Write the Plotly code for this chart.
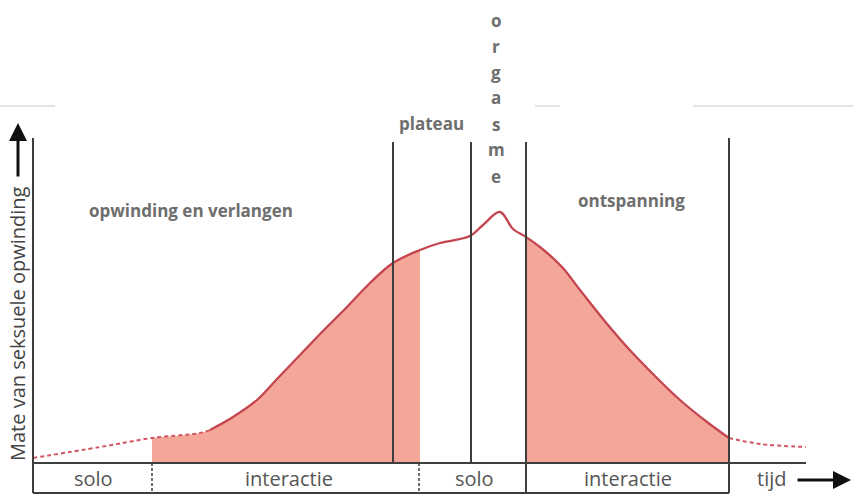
import plotly.graph_objects as go

# ---- data (time in px-like units, arousal level above baseline) ----
curve_t = [33, 100, 152, 200, 210, 233, 257, 277, 300, 323, 347, 370, 393, 420, 440, 470,
           483, 500, 513, 526, 540, 562, 580, 603, 627, 653, 680, 707, 729, 760, 806]
curve_a = [5, 16, 25, 30, 33, 46, 63, 84, 108, 132, 156, 180, 200, 213, 220, 227,
           238, 251, 234, 226, 216, 196, 173, 144, 116, 89, 63, 41, 25, 19, 16]

solid_from, solid_to = 4, 28          # indices of solid part of curve
fill_segments = [(2, 13), (19, 28)]   # shaded parts (index ranges)

phase_lines = [393, 471, 526, 729]
phase_tops = [321, 321, 321, 325]
phase_bottoms = [0, 0, -30, -30]
band_dividers = [152, 419]

phase_labels = ["opwinding en verlangen", "plateau", "ontspanning"]
phase_label_x = [191, 431, 631]
phase_label_y = [253, 340, 263]

orgasme_letters = list("orgasme")
orgasme_x = 496
orgasme_y = [443, 417, 391, 366, 339, 314, 287]

band_labels = ["solo", "interactie", "solo", "interactie", "tijd"]
band_label_x = [93, 289, 474, 628, 771]

y_label = "Mate van seksuele opwinding"

RED = "#c4444f"
DASH_RED = "#d25563"
FILL = "#f4a699"
DARK = "#3e3e3e"
GREY_TXT = "#6e6e6e"

fig = go.Figure()

for i0, i1 in fill_segments:
    fig.add_trace(go.Scatter(x=curve_t[i0:i1 + 1], y=curve_a[i0:i1 + 1], mode="lines",
                             line=dict(width=0, shape="spline", smoothing=1.0),
                             fill="tozeroy", fillcolor=FILL, hoverinfo="skip"))

fig.add_trace(go.Scatter(x=curve_t[:solid_from + 1], y=curve_a[:solid_from + 1], mode="lines",
                         line=dict(color=DASH_RED, width=2, dash="4px,3px", shape="spline")))
fig.add_trace(go.Scatter(x=curve_t[solid_from:solid_to + 1], y=curve_a[solid_from:solid_to + 1],
                         mode="lines", line=dict(color=RED, width=2.3, shape="spline", smoothing=1.0)))
fig.add_trace(go.Scatter(x=curve_t[solid_to:], y=curve_a[solid_to:], mode="lines",
                         line=dict(color=DASH_RED, width=2, dash="4px,3px", shape="spline")))

shapes = []
# y axis
shapes.append(dict(type="line", x0=33, x1=33, y0=325, y1=-30, line=dict(color=DARK, width=2)))
# baseline and bottom line
shapes.append(dict(type="line", x0=33, x1=806, y0=0, y1=0, line=dict(color=DARK, width=2)))
shapes.append(dict(type="line", x0=33, x1=729, y0=-30, y1=-30, line=dict(color=DARK, width=2)))
for x, t, b in zip(phase_lines, phase_tops, phase_bottoms):
    shapes.append(dict(type="line", x0=x, x1=x, y0=t, y1=b, line=dict(color=DARK, width=2)))
for x in band_dividers:
    shapes.append(dict(type="line", x0=x, x1=x, y0=0, y1=-30,
                       line=dict(color=DARK, width=1.5, dash="3px,2px")))
# faint top lines
for x0, x1 in [(0, 55), (535, 560), (693, 853)]:
    shapes.append(dict(type="line", x0=x0, x1=x1, y0=357, y1=357,
                       line=dict(color="#c8c8c8", width=1)))

annotations = []
for txt, x, y in zip(phase_labels, phase_label_x, phase_label_y):
    annotations.append(dict(x=x, y=y, text="<b>" + txt + "</b>", showarrow=False,
                            font=dict(family="Open Sans", size=17, color=GREY_TXT)))
for ch, y in zip(orgasme_letters, orgasme_y):
    annotations.append(dict(x=orgasme_x, y=y, text="<b>" + ch + "</b>", showarrow=False,
                            font=dict(family="Open Sans", size=17, color=GREY_TXT)))
for txt, x in zip(band_labels, band_label_x):
    annotations.append(dict(x=x, y=-15, text=txt, showarrow=False,
                            font=dict(family="Open Sans", size=20, color="#555555")))
annotations.append(dict(x=17, y=139, text=y_label, textangle=-90, showarrow=False,
                        font=dict(family="Open Sans", size=20, color="#444444")))
# arrows
annotations.append(dict(x=18, y=340, ax=18, ay=285, axref="x", ayref="y", text="",
                        showarrow=True, arrowhead=2, arrowsize=1.2, arrowwidth=3,
                        arrowcolor="#111111"))
annotations.append(dict(x=851, y=-17, ax=796, ay=-17, axref="x", ayref="y", text="",
                        showarrow=True, arrowhead=2, arrowsize=1.2, arrowwidth=3,
                        arrowcolor="#111111"))

fig.update_layout(
    width=853, height=497, margin=dict(l=0, r=0, t=0, b=0),
    paper_bgcolor="white", plot_bgcolor="white", showlegend=False,
    xaxis=dict(range=[0, 853], visible=False, fixedrange=True),
    yaxis=dict(range=[-34, 463], visible=False, fixedrange=True),
    shapes=shapes, annotations=annotations,
)

fig.write_html("out.html", post_script="document.body.style.margin='0';",
               config={"displayModeBar": False})
